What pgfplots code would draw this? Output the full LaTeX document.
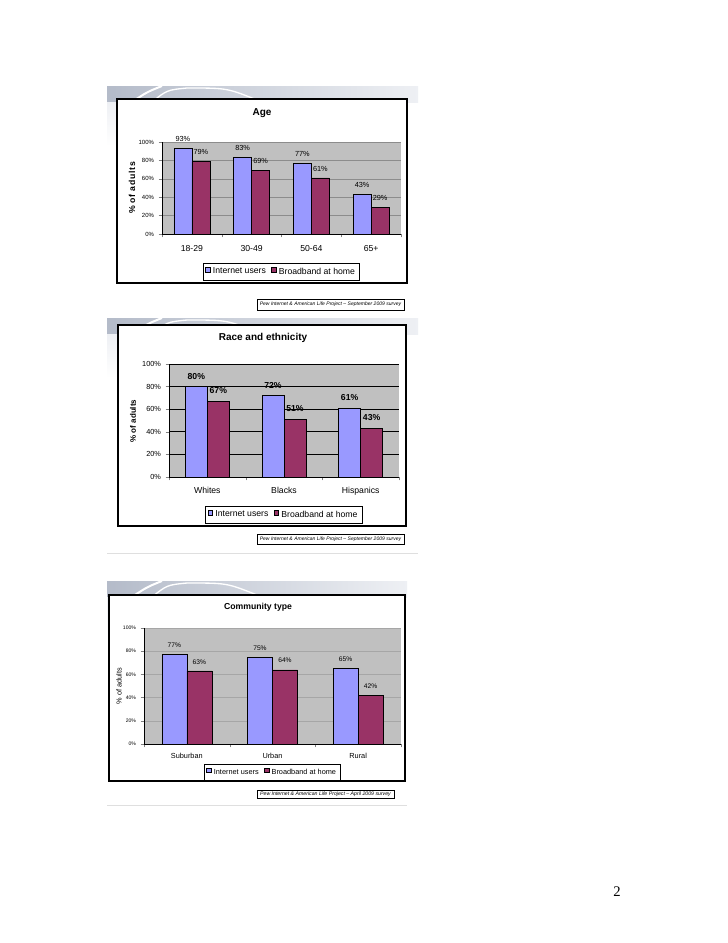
\documentclass[border=0pt]{standalone}
\usepackage{fontspec}
\setmainfont{Liberation Sans}
\newfontfamily\pageserif{Liberation Serif}
\usepackage{pgfplots}
\pgfplotsset{compat=1.18}

\definecolor{barblue}{HTML}{9999FF}
\definecolor{barred}{HTML}{993366}
\definecolor{plotgray}{HTML}{C0C0C0}
\definecolor{bandA}{HTML}{B4BBC9}
\definecolor{bandB}{HTML}{EEF0F4}

\newcommand\fs[1]{\fontsize{#1pt}{#1pt}\selectfont}

% one slide background: x1, y1, x2, y2 (pixels, y downwards)
\newcommand\slidebg[4]{%
  \fill[white] (#1,#2) rectangle (#3,#4);
  \shade[left color=bandA, right color=bandB] (#1,#2) rectangle (#3,#2+16);
  \shade[top color=bandB, bottom color=white] (#1,#2+16) rectangle (#1+12,#2+60);
  \draw[white, line width=1.5pt] (#1+25,#2+16) .. controls (#1+40,#2+6) .. (#1+55,#2);
  \draw[white, line width=1pt] (#1+45,#2+16) .. controls (#1+60,#2+4) .. (#1+80,#2+2)
        .. controls (#1+120,#2+2) .. (#1+150,#2+14);
}

\pgfplotsset{
  slide/.style={
    scale only axis, anchor=south west,
    /pgf/number format/assume math mode=true,
    ybar=0pt, ymin=0, ymax=100, ytick={0,20,...,100},
    yticklabel={\pgfmathprintnumber{\tick}\%},
    axis x line*=bottom, axis y line*=left, tick pos=left,
    tick align=outside, major tick length=2.5pt,
    axis line style={black, line width=0.6pt},
    axis background/.style={fill=plotgray},
    ymajorgrids, enlarge x limits=false,
    xticklabels={}, extra x tick style={major tick length=0pt},
    nodes near coords={\pgfmathprintnumber{\pgfplotspointmeta}\%},
    legend columns=2,
    legend style={anchor=center, draw=black, line width=0.6pt, inner sep=1.5pt,
      /tikz/every even column/.append style={column sep=2pt}},
    legend image code/.code={\draw[#1, draw=black, line width=0.3pt] (0pt,0pt) rectangle (3.4pt,3.4pt);},
  },
  bar1/.style={fill=barblue, draw=black, line width=0.4pt},
  bar2/.style={fill=barred, draw=black, line width=0.4pt},
}

\begin{document}
\begin{tikzpicture}[x=0.75pt, y=-0.75pt]
\useasboundingbox (0,0) rectangle (728,943);
\fill[white] (0,0) rectangle (728,943);

% ---------- slide backgrounds ----------
\slidebg{107}{86}{418}{316}
\slidebg{107}{318}{418}{553}
\draw[gray!25, line width=0.6pt] (107,553) -- (418,553);
\slidebg{107}{581}{407}{805}
\draw[gray!25, line width=0.6pt] (107,805) -- (407,805);

% ---------- frames ----------
\draw[black, fill=white, line width=0.8pt] (117,99) rectangle (407,283);
\draw[black, fill=white, line width=0.8pt] (118,325) rectangle (406,526);
\draw[black, fill=white, line width=0.8pt] (109,595) rectangle (405,781);

\coordinate (P1) at (162,234);
\coordinate (P2) at (169,477);
\coordinate (P3) at (144,744);

% ---------- chart 1: age ----------
\node[font=\fs{7.5}\bfseries] at (262,113) {Age};
\node[font=\fs{6.5}\bfseries, rotate=90] at (132,188) {\addfontfeature{LetterSpace=8}\% of adults};
\begin{axis}[slide, at={(P1)}, width=179.25pt, height=69pt, bar width=13.5pt,
  xmin=-0.5, xmax=3.5, xtick={-0.5,0.5,...,3.5},
  extra x ticks={0,1,2,3}, extra x tick labels={18-29,30-49,50-64,65+},
  major grid style={color=black!45, line width=0.4pt},
  yticklabel style={font=\fs{4.5}}, xticklabel style={font=\fs{6.5}, yshift=-5pt},
  every node near coord/.append style={font=\fs{5.5}, yshift=1.5pt},
  legend style={at={(0.5,-0.413)}, font=\fs{6.5}}]
\addplot[bar1] coordinates {(0,93) (1,83) (2,77) (3,43)};
\addplot[bar2] coordinates {(0,79) (1,69) (2,61) (3,29)};
\legend{Internet users, Broadband at home}
\end{axis}
\draw[line width=0.5pt] (257,299) rectangle (404,310);
\node at (330.5,304.5) {\resizebox{106pt}{!}{\itshape Pew Internet \& American Life Project -- September 2009 survey}};

% ---------- chart 2: race and ethnicity ----------
\node[font=\fs{7.5}\bfseries] at (263,338) {Race and ethnicity};
\node[font=\fs{6}\bfseries, rotate=90] at (133,421) {\% of adults};
\begin{axis}[slide, at={(P2)}, width=172.5pt, height=84.75pt, bar width=16.5pt,
  xmin=-0.5, xmax=2.5, xtick={-0.5,0.5,...,2.5},
  extra x ticks={0,1,2}, extra x tick labels={Whites,Blacks,Hispanics},
  major grid style={color=black, line width=0.6pt},
  yticklabel style={font=\fs{5.5}}, xticklabel style={font=\fs{6.5}, yshift=-4pt},
  every node near coord/.append style={font=\fs{6.5}\bfseries, yshift=2pt},
  legend style={at={(0.5,-0.336)}, font=\fs{6.5}}]
\addplot[bar1] coordinates {(0,80) (1,72) (2,61)};
\addplot[bar2] coordinates {(0,67) (1,51) (2,43)};
\legend{Internet users, Broadband at home}
\end{axis}
\draw[line width=0.5pt] (257,534) rectangle (404,544);
\node at (330.5,539) {\resizebox{106pt}{!}{\itshape Pew Internet \& American Life Project -- September 2009 survey}};

% ---------- chart 3: community type ----------
\node[font=\fs{6.5}\bfseries] at (258,607) {Community type};
\node[font=\fs{5.5}, rotate=90] at (119,686) {\% of adults};
\begin{axis}[slide, at={(P3)}, width=192.75pt, height=87pt, bar width=18.75pt,
  xmin=-0.5, xmax=2.5, xtick={-0.5,0.5,...,2.5},
  extra x ticks={0,1,2}, extra x tick labels={Suburban,Urban,Rural},
  major grid style={color=black!35, line width=0.4pt},
  yticklabel style={font=\fs{3.8}}, xticklabel style={font=\fs{5.5}, yshift=-3pt},
  every node near coord/.append style={font=\fs{5}, yshift=1.5pt},
  legend style={at={(0.5,-0.246)}, font=\fs{5.5}}]
\addplot[bar1] coordinates {(0,77) (1,75) (2,65)};
\addplot[bar2] coordinates {(0,63) (1,64) (2,42)};
\legend{Internet users, Broadband at home}
\end{axis}
\draw[line width=0.5pt] (257,790) rectangle (394,798);
\node at (325.5,794) {\resizebox{98pt}{!}{\itshape Pew Internet \& American Life Project -- April 2009 survey}};

% ---------- page number ----------
\node[font=\pageserif\fs{11}] at (617,892) {2};
\end{tikzpicture}
\end{document}
